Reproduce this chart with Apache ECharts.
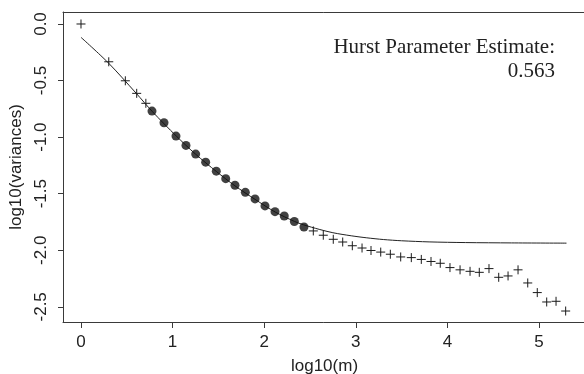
<!DOCTYPE html>
<html>
<head>
<meta charset="utf-8">
<script src="https://cdn.jsdelivr.net/npm/echarts@6/dist/echarts.min.js"></script>
<style>
  html, body { margin: 0; padding: 0; background: #fff; }
  #chart { width: 584px; height: 374px; }
</style>
</head>
<body>
<div id="chart"></div>
<script>
// Aggregated-variance plot: log10(m) against log10(variance of block means)

// Small block sizes (outside the fitting range)
const lowX = [0, 0.303, 0.484, 0.608, 0.708];
const lowY = [0, -0.334, -0.502, -0.613, -0.701];

// Block sizes used for the fit
const fitRangeX = [0.775, 0.906, 1.037, 1.146, 1.252, 1.361, 1.477, 1.580,
                   1.681, 1.794, 1.900, 2.009, 2.118, 2.219, 2.329, 2.434];
const fitRangeY = [-0.770, -0.873, -0.991, -1.073, -1.150, -1.221, -1.301, -1.367,
                   -1.425, -1.488, -1.546, -1.608, -1.659, -1.697, -1.746, -1.794];

// Large block sizes (outside the fitting range)
const highX = [2.536, 2.645, 2.754, 2.857, 2.962, 3.068, 3.166, 3.272, 3.377,
               3.490, 3.606, 3.715, 3.821, 3.922, 4.028, 4.138, 4.247, 4.348,
               4.454, 4.560, 4.662, 4.771, 4.877, 4.981, 5.084, 5.186, 5.291];
const highY = [-1.829, -1.867, -1.903, -1.927, -1.960, -1.980, -2.002, -2.016, -2.035,
               -2.059, -2.065, -2.081, -2.099, -2.115, -2.153, -2.173, -2.186, -2.195,
               -2.162, -2.239, -2.227, -2.173, -2.289, -2.374, -2.457, -2.451, -2.537];

// Fitted curve
const curveX = [0, 0.3, 0.6, 0.78, 1.04, 1.25, 1.48, 1.68, 1.9, 2.12, 2.33,
                2.43, 2.6, 2.75, 2.95, 3.12, 3.3, 3.5, 3.8, 4.2, 4.7, 5.3];
const curveY = [-0.118, -0.345, -0.61, -0.775, -0.99, -1.15, -1.305, -1.43, -1.55, -1.662, -1.745,
                -1.775, -1.815, -1.845, -1.872, -1.890, -1.905, -1.916, -1.926, -1.932, -1.935, -1.937];

const xTicks = [0, 1, 2, 3, 4, 5];
const yTicks = [-2.5, -2.0, -1.5, -1.0, -0.5, 0.0];

const hurstEstimate = 0.563;

const zip = (xs, ys) => xs.map((x, i) => [x, ys[i]]);

const sans = 'Liberation Sans, Arial, sans-serif';
const serif = 'Liberation Serif, Times New Roman, serif';
const ink = '#1a1a1a';
const frame = '#3a3a3a';

function renderCross(params, api) {
  const p = api.coord([api.value(0), api.value(1)]);
  const h = 4.5;
  const st = { stroke: ink, lineWidth: 1 };
  return {
    type: 'group',
    children: [
      { type: 'line', shape: { x1: p[0] - h, y1: p[1], x2: p[0] + h, y2: p[1] }, style: st },
      { type: 'line', shape: { x1: p[0], y1: p[1] - h, x2: p[0], y2: p[1] + h }, style: st }
    ]
  };
}

const chart = echarts.init(document.getElementById('chart'), null, { renderer: 'canvas' });

chart.setOption({
  animation: false,
  backgroundColor: '#fff',
  graphic: [
    {
      type: 'text',
      x: 555,
      y: 35,
      style: {
        text: 'Hurst Parameter Estimate:\n' + hurstEstimate.toFixed(3),
        align: 'right',
        verticalAlign: 'top',
        fontFamily: serif,
        fontSize: 21,
        lineHeight: 24,
        fill: '#222'
      }
    }
  ],
  grid: { left: 63, top: 12, right: -2, bottom: 52, containLabel: false, outerBoundsMode: 'none' },
  xAxis: [
    {
      type: 'value',
      min: -0.1965,
      max: 5.513,
      position: 'bottom',
      axisLine: { show: true, onZero: false, lineStyle: { color: frame, width: 1 } },
      axisTick: { show: true, length: 6, customValues: xTicks, lineStyle: { color: frame } },
      axisLabel: {
        customValues: xTicks,
        fontFamily: sans, fontSize: 17, color: '#222', margin: 12,
        formatter: v => String(v)
      },
      splitLine: { show: false },
      name: 'log10(m)',
      nameLocation: 'middle',
      nameGap: 36,
      nameTextStyle: { fontFamily: sans, fontSize: 17, color: '#222' }
    },
    {
      type: 'value',
      min: -0.1965,
      max: 5.513,
      position: 'top',
      axisLine: { show: true, onZero: false, lineStyle: { color: frame, width: 1 } },
      axisTick: { show: false },
      axisLabel: { show: false },
      splitLine: { show: false }
    }
  ],
  yAxis: {
    type: 'value',
    min: -2.634,
    max: 0.106,
    axisLine: { show: true, onZero: false, lineStyle: { color: frame, width: 1 } },
    axisTick: { show: true, length: 5, customValues: yTicks, lineStyle: { color: frame } },
    axisLabel: {
      customValues: yTicks,
      rotate: 90,
      fontFamily: sans, fontSize: 17, color: '#222', margin: 13,
      formatter: v => v.toFixed(1)
    },
    splitLine: { show: false },
    name: 'log10(variances)',
    nameLocation: 'middle',
    nameGap: 35,
    nameTextStyle: { fontFamily: sans, fontSize: 17, color: '#222' }
  },
  series: [
    {
      type: 'line',
      data: zip(curveX, curveY),
      smooth: 0.3,
      showSymbol: false,
      lineStyle: { color: '#222', width: 1 },
      z: 1
    },
    {
      type: 'scatter',
      data: zip(fitRangeX, fitRangeY),
      symbol: 'circle',
      symbolSize: 9,
      itemStyle: { color: '#111' },
      z: 3
    },
    {
      type: 'custom',
      data: zip(lowX, lowY),
      renderItem: renderCross,
      z: 2
    },
    {
      type: 'custom',
      data: zip(highX, highY),
      renderItem: renderCross,
      z: 2
    }
  ]
});
</script>
</body>
</html>
